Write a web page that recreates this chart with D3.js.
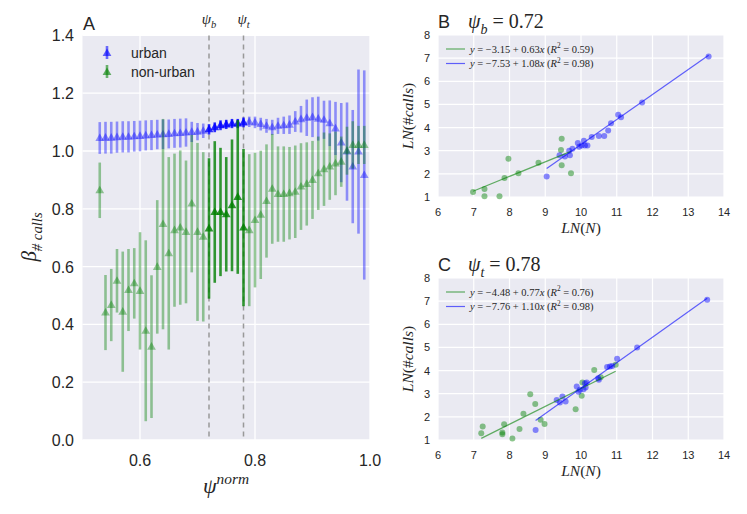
<!DOCTYPE html>
<html>
<head>
<meta charset="utf-8">
<script src="https://cdn.jsdelivr.net/npm/d3@7"></script>
<style>
  body { margin: 0; background: #fff; }
  svg { display: block; }
  text { font-family: "Liberation Sans", Arial, sans-serif; fill: #262626; }
  .m { font-family: "Liberation Serif", "DejaVu Serif", serif; }
</style>
</head>
<body>
<svg id="chart" width="747" height="514"></svg>
<script>
// panel A: scaling exponent vs normalised psi
const psi = [0.53, 0.54, 0.55, 0.56, 0.57, 0.58, 0.59, 0.60, 0.61, 0.62, 0.63, 0.64,
  0.65, 0.66, 0.67, 0.68, 0.69, 0.70, 0.71, 0.72, 0.73, 0.74, 0.75, 0.76, 0.77, 0.78,
  0.79, 0.80, 0.81, 0.82, 0.83, 0.84, 0.85, 0.86, 0.87, 0.88, 0.89, 0.90, 0.91, 0.92,
  0.93, 0.94, 0.95, 0.96, 0.97, 0.98, 0.99];
const urbanBeta = [1.045, 1.046, 1.046, 1.048, 1.049, 1.049, 1.051, 1.052, 1.054, 1.055,
  1.057, 1.058, 1.059, 1.061, 1.062, 1.064, 1.066, 1.067, 1.070, 1.075, 1.082, 1.089,
  1.092, 1.095, 1.095, 1.099, 1.101, 1.099, 1.093, 1.087, 1.082, 1.087, 1.089, 1.091,
  1.102, 1.110, 1.115, 1.117, 1.112, 1.108, 1.096, 1.078, 1.029, 0.998, 0.946, 0.998, 0.917];
const urbanErr = [0.055, 0.055, 0.055, 0.054, 0.054, 0.054, 0.053, 0.053, 0.052, 0.052,
  0.051, 0.051, 0.050, 0.050, 0.050, 0.049, 0.035, 0.030, 0.025, 0.018, 0.017, 0.017,
  0.016, 0.016, 0.016, 0.017, 0.018, 0.020, 0.022, 0.024, 0.026, 0.028, 0.030, 0.032,
  0.036, 0.046, 0.063, 0.069, 0.076, 0.066, 0.079, 0.092, 0.137, 0.170, 0.196, 0.284, 0.362];
const ruralBeta = [0.864, 0.441, 0.467, 0.551, 0.444, 0.519, 0.542, 0.516, 0.378, 0.323,
  0.599, 0.747, 0.646, 0.726, 0.735, 0.720, 0.818, 0.720, 0.703, 0.732, 0.789, 0.789,
  0.781, 0.812, 0.841, 0.735, 0.726, 0.761, 0.779, 0.827, 0.869, 0.851, 0.851, 0.854,
  0.859, 0.877, 0.886, 0.900, 0.923, 0.937, 0.946, 0.957, 0.963, 1.001, 1.021, 1.021, 1.021];
const ruralErr = [0.096, 0.130, 0.125, 0.110, 0.208, 0.142, 0.122, 0.203, 0.313, 0.247,
  0.231, 0.364, 0.333, 0.265, 0.267, 0.247, 0.238, 0.308, 0.293, 0.243, 0.245, 0.222,
  0.198, 0.228, 0.266, 0.272, 0.263, 0.233, 0.222, 0.196, 0.190, 0.165, 0.165, 0.160,
  0.160, 0.150, 0.144, 0.135, 0.127, 0.127, 0.115, 0.110, 0.087, 0.083, 0.082, 0.066, 0.066];
const psiB = 0.72, psiT = 0.78;
const yTicksA = [0.0, 0.2, 0.4, 0.6, 0.8, 1.0, 1.2, 1.4];
const xTicksA = [0.6, 0.8, 1.0];

// panel B (psi_b) and C (psi_t): log-log scatter with fits
const bRuralX = [6.98, 7.30, 7.30, 7.72, 7.86, 7.97, 8.25, 8.81, 9.44, 9.46, 9.46, 9.72];
const bRuralY = [1.22, 1.35, 1.03, 1.03, 1.82, 2.65, 2.03, 2.48, 3.03, 3.52, 2.37, 2.03];
const bUrbanX = [9.04, 9.40, 9.55, 9.67, 9.69, 9.76, 9.91, 9.95, 10.02, 10.08, 10.11, 10.18,
  10.30, 10.50, 10.65, 10.76, 10.84, 11.04, 11.12, 11.71, 13.57];
const bUrbanY = [1.89, 2.80, 2.75, 3.00, 2.80, 3.08, 3.33, 3.17, 3.23, 3.43, 3.23, 3.23,
  3.59, 3.64, 3.64, 3.87, 4.19, 4.55, 4.45, 5.08, 7.07];
const bFits = [[-3.15, 0.63, 0.59], [-7.53, 1.08, 0.98]];

const cRuralX = [7.21, 7.25, 7.80, 7.80, 7.85, 8.08, 8.28, 8.39, 8.58, 8.72, 8.87, 8.98,
  9.85, 10.02, 10.04, 10.37, 10.55, 10.97];
const cRuralY = [1.29, 1.58, 1.32, 1.25, 1.68, 1.07, 1.48, 2.13, 2.98, 2.56, 1.87, 1.69,
  2.33, 2.91, 3.48, 4.03, 3.71, 4.25];
const cUrbanX = [8.73, 9.32, 9.41, 9.48, 9.57, 9.88, 9.93, 9.97, 10.07, 10.11, 10.13, 10.16,
  10.48, 10.50, 10.73, 10.81, 10.87, 11.01, 11.57, 13.53];
const cUrbanY = [1.43, 2.73, 2.62, 2.88, 2.66, 3.31, 3.09, 3.17, 3.19, 3.45, 3.27, 3.48,
  3.67, 3.60, 4.15, 4.18, 4.20, 4.51, 5.00, 7.06];
const cFits = [[-4.48, 0.77, 0.76], [-7.76, 1.10, 0.98]];

const xTicksBC = [6, 7, 8, 9, 10, 11, 12, 13, 14];
const yTicksBC = [1, 2, 3, 4, 5, 6, 7, 8];

const BG = "#EAEAF2", GREEN = "#008000", BLUE = "#0000ff";
const svg = d3.select("#chart");

// mathtext-ish helper: parts = [{t, it, sub, sup}]
function math(sel, parts, size) {
  let shift = 0;
  parts.forEach(p => {
    const target = p.sub ? size * 0.28 : p.sup ? -size * 0.42 : 0;
    sel.append("tspan")
      .attr("dy", target - shift)
      .attr("font-size", (p.sub || p.sup) ? size * 0.7 : size)
      .attr("font-style", p.it ? "italic" : "normal")
      .text(p.t);
    shift = target;
  });
  return sel;
}

// ---------- panel A ----------
const xA = d3.scaleLinear().domain([0.5, 1.0]).range([82.5, 370]);
const yA = d3.scaleLinear().domain([0, 1.4]).range([440, 35.4]);
const gA = svg.append("g");

gA.append("rect").attr("x", xA(0.5)).attr("y", yA(1.4))
  .attr("width", xA(1.0) - xA(0.5)).attr("height", yA(0) - yA(1.4)).attr("fill", BG);
gA.selectAll(".gy").data(yTicksA).join("line")
  .attr("x1", xA(0.5)).attr("x2", xA(1.0)).attr("y1", d => yA(d)).attr("y2", d => yA(d))
  .attr("stroke", "#fff").attr("stroke-width", 1.3);
gA.selectAll(".gx").data(xTicksA).join("line")
  .attr("y1", yA(0)).attr("y2", yA(1.4)).attr("x1", d => xA(d)).attr("x2", d => xA(d))
  .attr("stroke", "#fff").attr("stroke-width", 1.3);

gA.selectAll(".yt").data(yTicksA).join("text")
  .attr("x", 74).attr("y", d => yA(d) + 6).attr("text-anchor", "end")
  .attr("font-size", 16).text(d3.format(".1f"));
gA.selectAll(".xt").data(xTicksA).join("text")
  .attr("x", d => xA(d)).attr("y", 466).attr("text-anchor", "middle")
  .attr("font-size", 16).text(d3.format(".1f"));

// threshold lines
[psiB, psiT].forEach((p, k) => {
  gA.append("line").attr("x1", xA(p)).attr("x2", xA(p)).attr("y1", yA(1.4)).attr("y2", yA(0))
    .attr("stroke", "#999").attr("stroke-width", 1.5).attr("stroke-dasharray", "5,4");
  math(gA.append("text").attr("class", "m").attr("x", xA(p)).attr("y", 24)
    .attr("text-anchor", "middle"),
    [{t: "ψ", it: true}, {t: k === 0 ? "b" : "t", it: true, sub: true}], 15);
});

const tri = "M0,-4.6L4.4,3L-4.4,3Z";
function inBand(p) { return p >= psiB - 0.001 && p <= psiT + 0.001; }

function series(vals, errs, color) {
  const g = gA.append("g");
  psi.forEach((p, i) => {
    const op = inBand(p) ? 0.8 : 0.4;
    g.append("line").attr("x1", xA(p)).attr("x2", xA(p))
      .attr("y1", yA(vals[i] - errs[i])).attr("y2", yA(vals[i] + errs[i]))
      .attr("stroke", color).attr("stroke-opacity", op).attr("stroke-width", 2.6);
    g.append("path").attr("d", tri)
      .attr("transform", `translate(${xA(p)},${yA(vals[i])})`)
      .attr("fill", color).attr("fill-opacity", op);
  });
}
series(urbanBeta, urbanErr, BLUE);
series(ruralBeta, ruralErr, GREEN);

// legend A
[["urban", BLUE, 53], ["non-urban", GREEN, 72]].forEach(([name, col, y]) => {
  gA.append("line").attr("x1", 107).attr("x2", 107).attr("y1", y - 7).attr("y2", y + 6)
    .attr("stroke", col).attr("stroke-opacity", 0.55).attr("stroke-width", 2.6);
  gA.append("path").attr("d", tri).attr("transform", `translate(107,${y})`)
    .attr("fill", col).attr("fill-opacity", 0.6);
  gA.append("text").attr("x", 131).attr("y", y + 5).attr("font-size", 14).text(name);
});

gA.append("text").attr("x", 83).attr("y", 30).attr("font-size", 18).text("A");
math(gA.append("text").attr("class", "m")
  .attr("transform", "translate(36,237) rotate(-90)").attr("text-anchor", "middle"),
  [{t: "β", it: true}, {t: "# calls", it: true, sub: true}], 21);
math(gA.append("text").attr("class", "m").attr("x", 226).attr("y", 493)
  .attr("text-anchor", "middle"),
  [{t: "ψ", it: true}, {t: "norm", it: true, sup: true}], 22);

// ---------- panels B and C ----------
function scatterPanel(top, letter, sym, psiVal, rx, ry, ux, uy, fits) {
  const x = d3.scaleLinear().domain([6, 14]).range([438, 724]);
  const y = d3.scaleLinear().domain([1, 8]).range([top + 162, top]);
  const g = svg.append("g");

  g.append("rect").attr("x", x(6)).attr("y", y(8)).attr("width", x(14) - x(6))
    .attr("height", y(1) - y(8)).attr("fill", BG);
  g.selectAll(".gx").data(xTicksBC).join("line")
    .attr("x1", d => x(d)).attr("x2", d => x(d)).attr("y1", y(1)).attr("y2", y(8))
    .attr("stroke", "#fff").attr("stroke-width", 1.2);
  g.selectAll(".gy").data(yTicksBC).join("line")
    .attr("y1", d => y(d)).attr("y2", d => y(d)).attr("x1", x(6)).attr("x2", x(14))
    .attr("stroke", "#fff").attr("stroke-width", 1.2);

  g.selectAll(".xt").data(xTicksBC).join("text")
    .attr("x", d => x(d)).attr("y", y(1) + 19).attr("text-anchor", "middle")
    .attr("font-size", 11).text(d => d);
  g.selectAll(".yt").data(yTicksBC).join("text")
    .attr("x", 430).attr("y", d => y(d) + 4).attr("text-anchor", "end")
    .attr("font-size", 11).text(d => d);

  // points
  [[rx, ry, GREEN], [ux, uy, BLUE]].forEach(([xs, ys, col]) => {
    g.selectAll(null).data(xs).join("circle")
      .attr("cx", d => x(d)).attr("cy", (d, i) => y(ys[i])).attr("r", 3)
      .attr("fill", col).attr("fill-opacity", 0.45);
  });

  // fit lines over the data extent
  [[rx, fits[0], GREEN], [ux, fits[1], BLUE]].forEach(([xs, f, col]) => {
    const ext = d3.extent(xs);
    g.append("path")
      .attr("d", d3.line().x(d => x(d)).y(d => y(f[0] + f[1] * d))(ext))
      .attr("stroke", col).attr("stroke-opacity", 0.6).attr("stroke-width", 1.2)
      .attr("fill", "none");
  });

  // legend
  const fmt = d3.format(".2f");
  fits.forEach((f, k) => {
    const ly = top + 14 + k * 14.5;
    const col = k === 0 ? GREEN : BLUE;
    g.append("line").attr("x1", 446).attr("x2", 465).attr("y1", ly).attr("y2", ly)
      .attr("stroke", col).attr("stroke-opacity", 0.6).attr("stroke-width", 1.2);
    math(g.append("text").attr("class", "m").attr("x", 470).attr("y", ly + 3.5),
      [{t: "y", it: true}, {t: " = " + fmt(f[0]).replace("-", "−") + " + " + fmt(f[1])},
       {t: "x", it: true}, {t: " ("}, {t: "R", it: true}, {t: "2", sup: true},
       {t: " = " + fmt(f[2]) + ")"}], 10.5);
  });

  g.append("text").attr("x", 438).attr("y", top - 7).attr("font-size", 18).text(letter);
  math(g.append("text").attr("class", "m").attr("x", 468).attr("y", top - 7),
    [{t: "ψ", it: true}, {t: sym, it: true, sub: true}, {t: " = " + psiVal}], 20);

  math(g.append("text").attr("class", "m").attr("x", (x(6) + x(14)) / 2).attr("y", y(1) + 36)
    .attr("text-anchor", "middle"),
    [{t: "LN", it: true}, {t: "("}, {t: "N", it: true}, {t: ")"}], 15.5);
  math(g.append("text").attr("class", "m")
    .attr("transform", `translate(413,${(y(1) + y(8)) / 2}) rotate(-90)`)
    .attr("text-anchor", "middle"),
    [{t: "LN", it: true}, {t: "(#"}, {t: "calls", it: true}, {t: ")"}], 15.5);
}

scatterPanel(35, "B", "b", "0.72", bRuralX, bRuralY, bUrbanX, bUrbanY, bFits);
scatterPanel(278, "C", "t", "0.78", cRuralX, cRuralY, cUrbanX, cUrbanY, cFits);
</script>
</body>
</html>
